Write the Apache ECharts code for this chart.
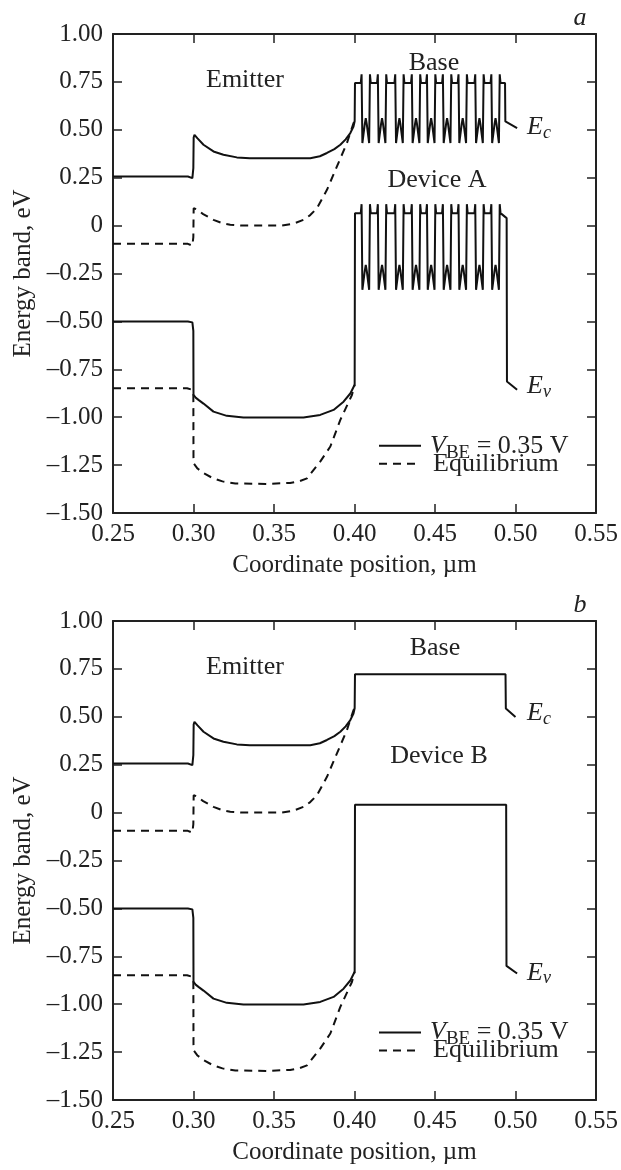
<!DOCTYPE html>
<html><head><meta charset="utf-8">
<script src="https://cdn.jsdelivr.net/npm/echarts@6/dist/echarts.min.js"></script>
<style>html,body{margin:0;padding:0;background:#fff}#c{width:621px;height:1170px}</style>
</head><body><div id="c"></div>
<script>
// ---------------- data (x in µm, energy in eV) ----------------
const xTicks = [0.25, 0.30, 0.35, 0.40, 0.45, 0.50, 0.55];
const yTicks = [1.00, 0.75, 0.50, 0.25, 0, -0.25, -0.50, -0.75, -1.00, -1.25, -1.50];

// emitter side (same in both devices)
const ecBiasEmitter = [[0.25,0.256],[0.2965,0.256],[0.2993,0.248],[0.2999,0.30],[0.3001,0.46],[0.3006,0.474],[0.3025,0.455],[0.3062,0.422],[0.3124,0.387],[0.3186,0.370],[0.3269,0.356],[0.335,0.352],[0.3725,0.352],[0.3785,0.362],[0.3829,0.379],[0.3875,0.399],[0.3912,0.422],[0.3945,0.450],[0.3974,0.483],[0.3993,0.515],[0.4001,0.544]];
const ecEqEmitter = [[0.25,-0.095],[0.2965,-0.095],[0.2993,-0.105],[0.2999,-0.06],[0.3001,0.091],[0.302,0.085],[0.306,0.060],[0.3124,0.030],[0.318,0.012],[0.3228,0.004],[0.33,0.0],[0.355,0.0],[0.362,0.010],[0.3683,0.030],[0.3725,0.055],[0.3767,0.091],[0.3829,0.187],[0.3891,0.309],[0.3953,0.431],[0.3994,0.535],[0.4001,0.544]];
const evBiasEmitter = [[0.25,-0.500],[0.2965,-0.500],[0.2993,-0.505],[0.2999,-0.55],[0.3000,-0.884],[0.3015,-0.899],[0.3035,-0.912],[0.3062,-0.929],[0.3124,-0.971],[0.3207,-0.993],[0.331,-1.002],[0.3683,-1.002],[0.3787,-0.988],[0.387,-0.962],[0.3932,-0.919],[0.3975,-0.875],[0.4001,-0.831]];
const evEqEmitter = [[0.25,-0.849],[0.296,-0.849],[0.2992,-0.857],[0.2999,-0.87],[0.3000,-1.240],[0.3025,-1.268],[0.3062,-1.292],[0.312,-1.318],[0.318,-1.335],[0.326,-1.346],[0.345,-1.348],[0.36,-1.343],[0.3655,-1.335],[0.3705,-1.319],[0.3787,-1.232],[0.385,-1.153],[0.3912,-1.014],[0.3984,-0.884],[0.4001,-0.831]];

// Device A: superlattice base (well centres and band levels)
const wellCentersA = [0.4070, 0.4171, 0.4279, 0.4382, 0.4476, 0.4575, 0.4672, 0.4776, 0.4876];
const ecLevelsA = [0.744, 0.790, 0.431, 0.561];   // barrier, horn, well bottom, cusp
const evLevelsA = [0.065, 0.112, -0.335, -0.205];
const ecTailA = [[0.4935,0.744],[0.4937,0.544],[0.5010,0.509]];
const evTailA = [[0.4945,0.039],[0.4947,-0.814],[0.5010,-0.857]];

// Device B: uniform base
const ecBaseB = [[0.4003,0.722],[0.4938,0.722],[0.4940,0.543],[0.5000,0.499]];
const evBaseB = [[0.4003,0.041],[0.4942,0.041],[0.4944,-0.800],[0.5010,-0.840]];

// shape of one well (offset from centre, level index)
const wellShapeDx  = [-0.0031,-0.0026,-0.0021,-0.0006,0,0.0006,0.0021,0.0026,0.0031];
const wellShapeLvl = [0,1,2,3,3,3,2,1,0];

function buildSL(centers, lv) {
  const pts = [[0.4003, lv[0]]];
  centers.forEach(c => {
    wellShapeDx.forEach((dx, i) => {
      let v = lv[wellShapeLvl[i]];
      if (i === 3 || i === 5) v = lv[3] - 0.03;
      pts.push([c + dx, v]);
    });
  });
  return pts;
}

const ecA = ecBiasEmitter.concat(buildSL(wellCentersA, ecLevelsA), ecTailA);
const evA = evBiasEmitter.concat(buildSL(wellCentersA, evLevelsA), evTailA);
const ecB = ecBiasEmitter.concat(ecBaseB);
const evB = evBiasEmitter.concat(evBaseB);

// ---------------- styling ----------------
const FONT = '"Liberation Serif", "Times New Roman", serif';
const INK = '#222';
const FS = 25;     // tick labels and axis names
const FL = 26;     // annotations and legend
const grids = [
  {left:113, top:34, width:483, height:479},
  {left:113, top:621, width:483, height:479}
];
const axLine = {show:true, onZero:false, lineStyle:{color:INK, width:2}};
const axTick = {show:true, inside:true, length:9, lineStyle:{color:INK, width:1.5}};
const xAxes = [], yAxes = [];
grids.forEach((g, i) => {
  const base = {type:'value', gridIndex:i, min:xTicks[0], max:xTicks[xTicks.length-1], interval:0.05,
    axisLine:axLine, axisTick:axTick, splitLine:{show:false}};
  xAxes.push(Object.assign({}, base, {position:'bottom',
    name:'Coordinate position, \u00b5m', nameLocation:'middle', nameGap:40,
    nameTextStyle:{fontFamily:FONT, fontSize:FS, color:INK},
    axisLabel:{show:true, margin:9, fontFamily:FONT, fontSize:FS, color:INK, showMinLabel:true, showMaxLabel:true,
      formatter:v => v.toFixed(2)}}));
  xAxes.push(Object.assign({}, base, {position:'top', axisLabel:{show:false}}));
  const ybase = {type:'value', gridIndex:i, min:yTicks[yTicks.length-1], max:yTicks[0], interval:0.25,
    axisLine:axLine, axisTick:axTick, splitLine:{show:false}};
  yAxes.push(Object.assign({}, ybase, {position:'left',
    name:'Energy band, eV', nameLocation:'middle', nameGap:76,
    nameTextStyle:{fontFamily:FONT, fontSize:FS, color:INK},
    axisLabel:{show:true, margin:10, fontFamily:FONT, fontSize:FS, color:INK, showMinLabel:true, showMaxLabel:true,
      formatter:v => Math.abs(v) < 1e-9 ? '0' : (v < 0 ? '\u2013' : '') + Math.abs(v).toFixed(2)}}));
  yAxes.push(Object.assign({}, ybase, {position:'right', axisLabel:{show:false}}));
});

function line(name, data, gi, dashed) {
  return {type:'line', name:name, data:data, xAxisIndex:gi*2, yAxisIndex:gi*2,
    symbol:'none', showSymbol:false, silent:true, animation:false, color:'#111',
    lineStyle:{color:'#111', width:2, type: dashed ? [8,6] : 'solid'}};
}
const series = [
  line('biasA', ecA, 0, false), line('biasA', evA, 0, false),
  line('eqA', ecEqEmitter, 0, true), line('eqA', evEqEmitter, 0, true),
  line('biasB', ecB, 1, false), line('biasB', evB, 1, false),
  line('eqB', ecEqEmitter, 1, true), line('eqB', evEqEmitter, 1, true)
];

// rich text for legend (middle-aligned tokens, subscript pushed down by padding)
const legRich = {
  i:{fontFamily:FONT, fontSize:FL, fontStyle:'italic', color:INK, lineHeight:26, padding:[0,0,0,4]},
  s:{fontFamily:FONT, fontSize:19, color:INK, lineHeight:19, padding:[14,0,0,0]},
  n:{fontFamily:FONT, fontSize:FL, color:INK, lineHeight:26},
  e:{fontFamily:FONT, fontSize:FL, color:INK, lineHeight:26, padding:[0,0,0,7]}
};
// rich text for band labels
const bandRich = {
  i:{fontFamily:FONT, fontSize:FL, fontStyle:'italic', color:INK, lineHeight:18, verticalAlign:'bottom', padding:[0,0,2,0]},
  si:{fontFamily:FONT, fontSize:18, fontStyle:'italic', color:INK, lineHeight:12, verticalAlign:'bottom'}
};
function legendRow(name, centerY) {
  return {orient:'vertical', left:378, top:centerY - 16.5, padding:0, itemWidth:42, itemHeight:33, itemGap:0,
    selectedMode:false, data:[name], itemStyle:{opacity:0},
    formatter: n => n.indexOf('bias') === 0 ? '{i|V}{s|BE}{n| = 0.35 V}' : '{e|Equilibrium}',
    textStyle:{fontFamily:FONT, fontSize:FL, color:INK, rich:legRich}};
}

function txt(x, y, text, italic, align) {
  return {type:'text', x:x, y:y, silent:true, style:{text:text, fill:INK,
    font:(italic ? 'italic ' : '') + FL + 'px ' + FONT, fontFamily:FONT, fontSize:FL, fontStyle: italic ? 'italic' : 'normal',
    textAlign: align || 'center', align: align || 'center', textVerticalAlign:'middle', verticalAlign:'middle'}};
}
function band(x, y, sub) {
  return {type:'text', x:x, y:y, silent:true, style:{text:'{i|E}{si|' + sub + '}', rich:bandRich, fill:INK,
    textAlign:'left', align:'left', textVerticalAlign:'middle', verticalAlign:'middle'}};
}
const dy = 586.7;
const graphic = [
  txt(580, 18, 'a', true), txt(580, 18 + dy, 'b', true),
  txt(245, 80, 'Emitter'), txt(245, 80 + dy, 'Emitter'),
  txt(434, 63.5, 'Base'), txt(435, 63.5 + dy - 2, 'Base'),
  txt(437, 180, 'Device A'), txt(439, 756, 'Device B'),
  band(527, 133, 'c'), band(527, 392, 'v'),
  band(527, 719, 'c'), band(527, 392 + dy, 'v')
];

const chart = echarts.init(document.getElementById('c'), null, {renderer:'canvas'});
chart.setOption({
  animation:false, backgroundColor:'#fff',
  grid:grids, xAxis:xAxes, yAxis:yAxes, series:series,
  legend:[legendRow('biasA', 445.7), legendRow('eqA', 467),
          legendRow('biasB', 445.7 + dy), legendRow('eqB', 467 + dy)],
  graphic:graphic
});
</script></body></html>
